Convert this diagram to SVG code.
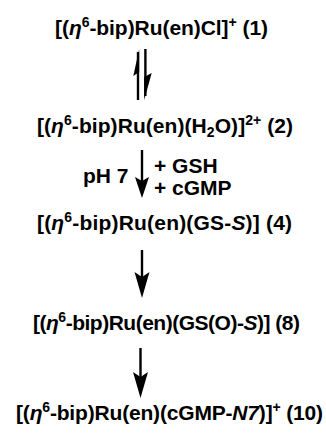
<svg xmlns="http://www.w3.org/2000/svg" width="326" height="434" viewBox="0 0 326 434">
<style>
text{font-family:"Liberation Sans",Arial,sans-serif;font-weight:bold;font-size:21px;fill:#000}
.it{font-style:italic}
.sup{font-size:14px}
.bar{stroke:#000;stroke-width:2.4;fill:none}
.head{fill:#000;stroke:none}
</style>
<rect width="326" height="434" fill="#fff"/>
<g id="n1"><text x="55" y="35" textLength="213" lengthAdjust="spacing">[(<tspan class="it">η</tspan><tspan class="sup" dy="-8">6</tspan><tspan dy="8">-bip)Ru(en)Cl]</tspan><tspan class="sup" dy="-8">+</tspan><tspan dy="8"> (1)</tspan></text></g>
<g id="n2"><text x="37" y="133" textLength="256" lengthAdjust="spacing">[(<tspan class="it">η</tspan><tspan class="sup" dy="-8">6</tspan><tspan dy="8">-bip)Ru(en)(H</tspan><tspan class="sup" dy="4">2</tspan><tspan dy="-4">O)]</tspan><tspan class="sup" dy="-8">2+</tspan><tspan dy="8"> (2)</tspan></text></g>
<g id="n4"><text x="37" y="230" textLength="255" lengthAdjust="spacing">[(<tspan class="it">η</tspan><tspan class="sup" dy="-8">6</tspan><tspan dy="8">-bip)Ru(en)(GS-</tspan><tspan class="it">S</tspan>)] (4)</text></g>
<g id="n8"><text x="33" y="330" textLength="267" lengthAdjust="spacing">[(<tspan class="it">η</tspan><tspan class="sup" dy="-8">6</tspan><tspan dy="8">-bip)Ru(en)(GS(O)-</tspan><tspan class="it">S</tspan>)] (8)</text></g>
<g id="n10"><text x="16" y="420" textLength="307" lengthAdjust="spacing">[(<tspan class="it">η</tspan><tspan class="sup" dy="-8">6</tspan><tspan dy="8">-bip)Ru(en)(cGMP-</tspan><tspan class="it">N7</tspan>)]<tspan class="sup" dy="-8">+</tspan><tspan dy="8"> (10)</tspan></text></g>
<g id="labels">
<text x="83" y="183">pH 7</text>
<text x="154" y="173">+ GSH</text>
<text x="154" y="195">+ cGMP</text>
</g>
<g id="connectors">
<path class="bar" d="M138 52 V100"/>
<path class="head" d="M139.2 49 L133.3 76 L139.2 72 Z"/>
<path class="bar" d="M145.4 49 V96"/>
<path class="head" d="M144.2 100 L151.7 73 L144.2 77 Z"/>
<path class="bar" d="M142 150 V182"/>
<path class="head" d="M142 198 L135 177 L142 181 L149 177 Z"/>
<path class="bar" d="M142 250 V280"/>
<path class="head" d="M142 298 L134.5 272 L142 277 L149.5 272 Z"/>
<path class="bar" d="M140.5 348 V378"/>
<path class="head" d="M140.5 398 L133 372 L140.5 377 L148 372 Z"/>
</g>
</svg>
